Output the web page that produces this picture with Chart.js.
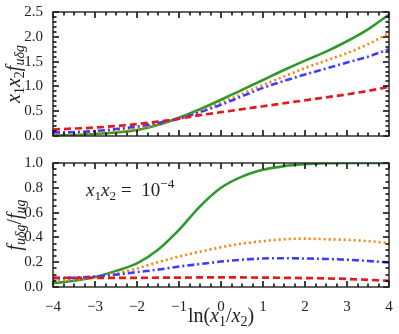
<!DOCTYPE html>
<html>
<head>
<meta charset="utf-8">
<script src="https://cdn.jsdelivr.net/npm/chart.js@4/dist/chart.umd.min.js"></script>
<style>
  body { margin: 0; background: #fff; }
  #wrap { position: relative; width: 399px; height: 334px; }
  canvas { position: absolute; left: 0; }
</style>
</head>
<body>
<div id="wrap">
  <canvas id="topChart" width="399" height="150" style="top:0"></canvas>
  <canvas id="bottomChart" width="399" height="184" style="top:150px"></canvas>
</div>
<script>
// ln(x1/x2) sample points
const lnRatio = [-4, -3.5, -3, -2.5, -2, -1.5, -1, -0.5, 0, 0.5, 1, 1.5, 2, 2.5, 3, 3.5, 4];

// top panel: x1 x2 f_{u delta g}
const topGreen  = [0.01, 0.02, 0.04, 0.07, 0.12, 0.22, 0.37, 0.54, 0.73, 0.93, 1.13, 1.33, 1.52, 1.70, 1.91, 2.15, 2.45];
const topOrange = [0.04, 0.05, 0.07, 0.10, 0.15, 0.23, 0.35, 0.50, 0.67, 0.85, 1.03, 1.20, 1.37, 1.52, 1.67, 1.85, 2.07];
const topBlue   = [0.07, 0.08, 0.10, 0.14, 0.19, 0.26, 0.35, 0.48, 0.63, 0.80, 0.97, 1.11, 1.24, 1.36, 1.48, 1.60, 1.75];
const topRed    = [0.13, 0.15, 0.17, 0.20, 0.24, 0.29, 0.35, 0.42, 0.48, 0.54, 0.60, 0.66, 0.72, 0.78, 0.84, 0.91, 0.99];

// bottom panel: f_{u delta g} / f_{ug}
const botGreen  = [0.03, 0.05, 0.08, 0.13, 0.19, 0.30, 0.46, 0.65, 0.80, 0.89, 0.945, 0.975, 0.99, 0.998, 1.0, 1.0, 1.0];
const botOrange = [0.05, 0.06, 0.08, 0.11, 0.15, 0.20, 0.245, 0.285, 0.32, 0.35, 0.37, 0.385, 0.39, 0.385, 0.38, 0.37, 0.355];
const botBlue   = [0.07, 0.075, 0.085, 0.10, 0.12, 0.14, 0.165, 0.185, 0.205, 0.22, 0.23, 0.232, 0.23, 0.226, 0.22, 0.21, 0.197];
const botRed    = [0.075, 0.074, 0.073, 0.073, 0.074, 0.075, 0.076, 0.077, 0.078, 0.077, 0.076, 0.074, 0.072, 0.069, 0.065, 0.058, 0.05];

const xTicks = [-4, -3, -2, -1, 0, 1, 2, 3, 4];
const topYTicks = [0, 0.5, 1.0, 1.5, 2.0, 2.5];
const botYTicks = [0, 0.2, 0.4, 0.6, 0.8, 1.0];

const SERIF = '"Liberation Serif", "DejaVu Serif", serif';
const INK = '#222';

// draws a little math string: [text, kind], kind = i (italic), r (roman), si/sr (subscript), sup
function drawMath(ctx, parts, x, y, size, align) {
  const fontOf = p => {
    const small = p[1] === 'si' || p[1] === 'sr' || p[1] === 'sup';
    const italic = p[1] === 'i' || p[1] === 'si';
    return (italic ? 'italic ' : '') + (small ? size * 0.7 : size) + 'px ' + SERIF;
  };
  let w = 0;
  parts.forEach(p => { ctx.font = fontOf(p); w += ctx.measureText(p[0]).width; });
  let cx = align === 'center' ? x - w / 2 : x;
  ctx.textAlign = 'left';
  ctx.textBaseline = 'alphabetic';
  parts.forEach(p => {
    ctx.font = fontOf(p);
    let dy = 0;
    if (p[1] === 'si' || p[1] === 'sr') dy = size * 0.22;
    if (p[1] === 'sup') dy = -size * 0.4;
    ctx.fillText(p[0], cx, y + dy);
    cx += ctx.measureText(p[0]).width;
  });
}

// frame + inward ticks on all four sides, plus the math labels
const decoPlugin = {
  id: 'deco',
  afterDraw(chart) {
    const deco = chart.config.options.deco;
    const { ctx, chartArea: a, scales } = chart;
    ctx.save();
    ctx.setLineDash([]);
    ctx.strokeStyle = '#000';
    ctx.lineWidth = 1.5;
    const xTick = (v, len) => {
      const px = Math.round(scales.x.getPixelForValue(v));
      ctx.beginPath();
      ctx.moveTo(px, a.bottom);
      ctx.lineTo(px, a.bottom - len);
      ctx.moveTo(px, a.top);
      ctx.lineTo(px, a.top + len);
      ctx.stroke();
    };
    const yTick = (v, len) => {
      const py = Math.round(scales.y.getPixelForValue(v));
      ctx.beginPath();
      ctx.moveTo(a.left, py);
      ctx.lineTo(a.left + len, py);
      ctx.moveTo(a.right, py);
      ctx.lineTo(a.right - len, py);
      ctx.stroke();
    };
    const xv = deco.xTicks, yv = deco.yTicks;
    for (let i = 0; i < xv.length; i++) {
      xTick(xv[i], 6);
      if (i < xv.length - 1) {
        const st = (xv[i + 1] - xv[i]) / deco.xMinor;
        for (let k = 1; k < deco.xMinor; k++) xTick(xv[i] + k * st, 3.5);
      }
    }
    for (let i = 0; i < yv.length; i++) {
      yTick(yv[i], 6);
      if (i < yv.length - 1) {
        const st = (yv[i + 1] - yv[i]) / deco.yMinor;
        for (let k = 1; k < deco.yMinor; k++) yTick(yv[i] + k * st, 3.5);
      }
    }
    ctx.strokeStyle = '#222';
    ctx.lineWidth = 1.4;
    ctx.strokeRect(a.left, a.top, a.right - a.left, a.bottom - a.top);

    ctx.fillStyle = INK;
    deco.labels.forEach(it => {
      if (it.rotate) {
        ctx.save();
        ctx.translate(it.x, (a.top + a.bottom) / 2);
        ctx.rotate(-Math.PI / 2);
        drawMath(ctx, it.parts, 0, it.size * 0.3, it.size, 'center');
        ctx.restore();
      } else {
        drawMath(ctx, it.parts, it.x, it.y, it.size, it.align || 'left');
      }
    });
    ctx.restore();
  }
};

function makeDatasets(green, orange, blue, red) {
  const pts = arr => arr.map((v, i) => ({ x: lnRatio[i], y: v }));
  return [
    { data: pts(red), borderColor: '#e31a1c', borderWidth: 2.7, borderDash: [7, 4] },
    { data: pts(blue), borderColor: '#3d3dff', borderWidth: 2.6, borderDash: [7, 3, 2, 3] },
    { data: pts(orange), borderColor: '#ff7f0e', borderWidth: 2.6, borderDash: [2, 3] },
    { data: pts(green), borderColor: '#2e9a2e', borderWidth: 2.6 }
  ];
}

function axisTicks(arr) {
  return s => { s.ticks = arr.map(v => ({ value: v })); };
}

function makeChart(id, datasets, yTicks, yMax, yMinor, opt) {
  return new Chart(document.getElementById(id), {
    type: 'line',
    data: { datasets: datasets },
    plugins: [decoPlugin],
    options: {
      responsive: false,
      animation: false,
      devicePixelRatio: 1,
      deco: { xTicks: xTicks, yTicks: yTicks, xMinor: 4, yMinor: yMinor, labels: opt.labels },
      layout: { padding: { left: 0, right: 10, top: opt.top, bottom: 0 } },
      elements: {
        point: { radius: 0 },
        line: { cubicInterpolationMode: 'monotone', fill: false, borderCapStyle: 'butt' }
      },
      scales: {
        x: {
          type: 'linear', min: -4, max: 4,
          afterBuildTicks: axisTicks(xTicks),
          afterFit: s => { s.height = opt.xHeight; },
          grid: { display: false },
          border: { display: false },
          ticks: {
            color: INK, padding: 3, maxRotation: 0,
            font: { family: SERIF, size: 15 },
            callback: v => (v < 0 ? '\u2212' + Math.abs(v) : String(v))
          }
        },
        y: {
          type: 'linear', min: 0, max: yMax,
          afterBuildTicks: axisTicks(yTicks),
          afterFit: s => { s.width = 53; },
          grid: { display: false },
          border: { display: false },
          ticks: {
            color: INK, padding: 2,
            font: { family: SERIF, size: 15 },
            callback: v => v.toFixed(1)
          }
        }
      },
      plugins: {
        legend: { display: false },
        tooltip: { enabled: false }
      }
    }
  });
}

makeChart('topChart', makeDatasets(topGreen, topOrange, topBlue, topRed), topYTicks, 2.5, 5, {
  top: 12, xHeight: 14,
  labels: [
    { rotate: true, x: 14, size: 20,
      parts: [['x', 'i'], ['1', 'sr'], ['x', 'i'], ['2', 'sr'], ['f', 'i'], ['u\u03b4g', 'si']] }
  ]
});

makeChart('bottomChart', makeDatasets(botGreen, botOrange, botBlue, botRed), botYTicks, 1.0, 4, {
  top: 13, xHeight: 47,
  labels: [
    { rotate: true, x: 15, size: 20,
      parts: [['f', 'i'], ['u\u03b4g', 'si'], ['/', 'r'], ['f', 'i'], ['ug', 'si']] },
    { x: 221, y: 172, size: 20, align: 'center',
      parts: [['ln(', 'r'], ['x', 'i'], ['1', 'sr'], ['/', 'r'], ['x', 'i'], ['2', 'sr'], [')', 'r']] },
    { x: 86, y: 46, size: 19,
      parts: [['x', 'i'], ['1', 'sr'], ['x', 'i'], ['2', 'sr'], [' =  10', 'r'], ['\u22124', 'sup']] }
  ]
});
</script>
</body>
</html>
